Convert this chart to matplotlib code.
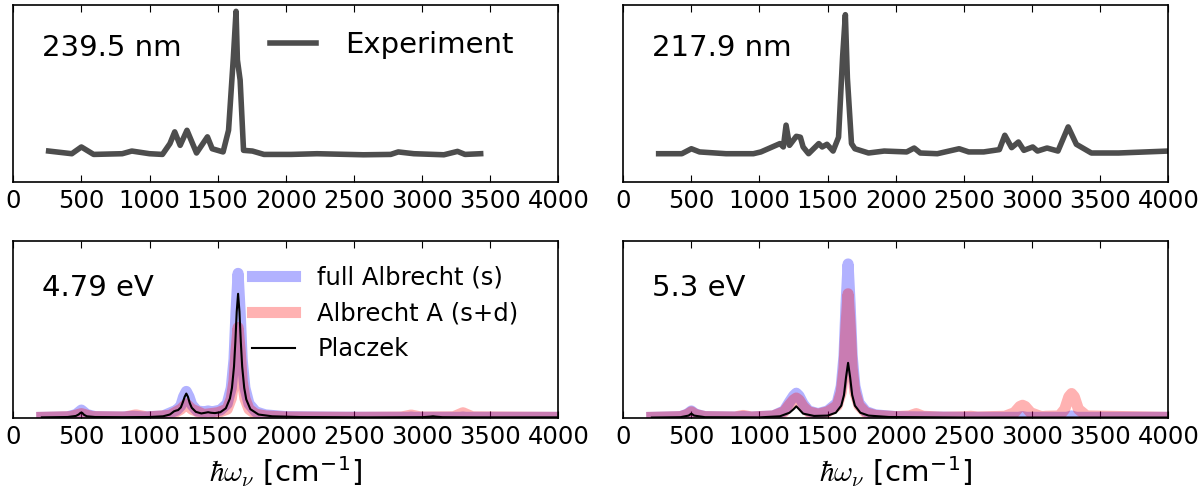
import matplotlib

matplotlib.use("Agg")
import matplotlib.pyplot as plt

# Experimental spectra (intensity in arbitrary units, axes run 0..1)
exp_239_x = [260, 430, 500, 590, 800, 870, 1000, 1095, 1150, 1185,
             1225, 1275, 1345, 1425, 1460, 1540, 1580, 1615, 1635, 1645,
             1665, 1690, 1755, 1840, 2040, 2230, 2570, 2770, 2825, 2940,
             3160, 3260, 3315, 3430]
exp_239_y = [0.177, 0.162, 0.200, 0.158, 0.162, 0.177, 0.162, 0.158, 0.219, 0.285,
             0.209, 0.294, 0.166, 0.257, 0.190, 0.172, 0.294, 0.700, 0.964, 0.690,
             0.577, 0.181, 0.177, 0.158, 0.158, 0.162, 0.156, 0.158, 0.172, 0.162,
             0.156, 0.175, 0.158, 0.162]

exp_217_x = [260, 430, 500, 560, 755, 955, 1010, 1150, 1175, 1195,
             1220, 1270, 1300, 1320, 1360, 1435, 1460, 1495, 1540, 1580,
             1610, 1630, 1645, 1675, 1700, 1800, 1915, 2080, 2135, 2180,
             2305, 2465, 2535, 2645, 2760, 2800, 2850, 2900, 2940, 3005,
             3040, 3110, 3190, 3265, 3325, 3435, 3635, 4000]
exp_217_y = [0.162, 0.162, 0.190, 0.172, 0.162, 0.162, 0.172, 0.219, 0.200, 0.323,
             0.209, 0.260, 0.255, 0.200, 0.162, 0.219, 0.200, 0.215, 0.177, 0.255,
             0.710, 0.945, 0.587, 0.219, 0.190, 0.166, 0.177, 0.172, 0.194, 0.166,
             0.162, 0.190, 0.172, 0.172, 0.185, 0.266, 0.196, 0.228, 0.181, 0.200,
             0.177, 0.194, 0.177, 0.313, 0.215, 0.166, 0.166, 0.177]

# Calculated spectra at 4.79 eV
full_479_x = [210, 400, 460, 500, 540, 600, 800, 880, 960, 1100,
              1170, 1200, 1230, 1250, 1270, 1290, 1310, 1350, 1400, 1430,
              1460, 1520, 1570, 1600, 1620, 1635, 1650, 1665, 1680, 1700,
              1730, 1780, 1850, 2000, 2400, 2900, 2920, 2940, 3280, 3300,
              3320, 4000]
full_479_y = [0.004, 0.007, 0.02, 0.045, 0.02, 0.008, 0.006, 0.01, 0.006, 0.012,
              0.035, 0.045, 0.07, 0.12, 0.15, 0.12, 0.075, 0.04, 0.035, 0.04,
              0.035, 0.045, 0.08, 0.17, 0.33, 0.6, 0.815, 0.6, 0.33, 0.17,
              0.08, 0.035, 0.018, 0.008, 0.005, 0.004, 0.006, 0.004, 0.004, 0.006,
              0.004, 0.004]

albA_479_x = [210, 420, 500, 580, 820, 900, 980, 1150, 1230, 1270,
              1310, 1400, 1500, 1570, 1600, 1620, 1635, 1650, 1665, 1680,
              1700, 1730, 1780, 1850, 2000, 2500, 2850, 2920, 2990, 3230,
              3300, 3370, 4000]
albA_479_y = [0.004, 0.008, 0.025, 0.008, 0.006, 0.018, 0.006, 0.015, 0.05, 0.08,
              0.05, 0.02, 0.03, 0.05, 0.11, 0.21, 0.38, 0.51, 0.38, 0.21,
              0.11, 0.05, 0.022, 0.012, 0.006, 0.004, 0.006, 0.017, 0.006, 0.007,
              0.03, 0.007, 0.004]

plac_479_x = [210, 400, 460, 480, 495, 505, 520, 540, 600, 800,
              1000, 1100, 1150, 1180, 1195, 1210, 1230, 1245, 1258, 1270,
              1282, 1295, 1310, 1340, 1380, 1410, 1430, 1450, 1480, 1520,
              1560, 1590, 1605, 1620, 1630, 1640, 1650, 1660, 1670, 1680,
              1695, 1710, 1740, 1800, 1900, 2100, 2600, 3000, 3060, 3080,
              3100, 3150, 3400, 4000]
plac_479_y = [0.004, 0.006, 0.012, 0.02, 0.03, 0.03, 0.018, 0.01, 0.006, 0.005,
              0.006, 0.01, 0.02, 0.038, 0.042, 0.045, 0.06, 0.09, 0.12, 0.138,
              0.12, 0.085, 0.058, 0.035, 0.026, 0.03, 0.033, 0.03, 0.028, 0.033,
              0.055, 0.11, 0.17, 0.29, 0.43, 0.6, 0.70, 0.6, 0.43, 0.29,
              0.17, 0.105, 0.05, 0.02, 0.01, 0.006, 0.004, 0.005, 0.008, 0.01,
              0.008, 0.005, 0.004, 0.004]

# Calculated spectra at 5.3 eV
full_53_x = [210, 420, 470, 500, 530, 600, 820, 880, 940, 1100,
             1180, 1220, 1250, 1270, 1290, 1320, 1360, 1430, 1500, 1570,
             1600, 1620, 1635, 1650, 1665, 1680, 1700, 1730, 1780, 1850,
             2000, 2500, 2900, 2930, 2960, 3260, 3290, 3320, 4000]
full_53_y = [0.004, 0.008, 0.022, 0.04, 0.022, 0.008, 0.006, 0.009, 0.006, 0.012,
             0.04, 0.09, 0.125, 0.14, 0.125, 0.08, 0.04, 0.025, 0.04, 0.085,
             0.18, 0.35, 0.64, 0.868, 0.64, 0.35, 0.18, 0.085, 0.037, 0.018,
             0.008, 0.004, 0.004, 0.008, 0.004, 0.004, 0.012, 0.004, 0.004]

albA_53_x = [210, 420, 470, 500, 530, 600, 820, 880, 940, 1100,
             1180, 1220, 1250, 1270, 1290, 1320, 1360, 1430, 1500, 1570,
             1600, 1620, 1635, 1650, 1665, 1680, 1700, 1730, 1780, 1850,
             2000, 2100, 2150, 2200, 2350, 2500, 2550, 2600, 2800, 2870,
             2910, 2930, 2950, 2990, 3060, 3080, 3100, 3200, 3240, 3270,
             3290, 3310, 3340, 3400, 4000]
albA_53_y = [0.004, 0.008, 0.02, 0.035, 0.02, 0.008, 0.006, 0.015, 0.006, 0.012,
             0.035, 0.075, 0.102, 0.113, 0.102, 0.065, 0.035, 0.022, 0.035, 0.07,
             0.145, 0.28, 0.52, 0.70, 0.52, 0.28, 0.145, 0.07, 0.03, 0.015,
             0.008, 0.012, 0.025, 0.01, 0.005, 0.007, 0.01, 0.006, 0.01, 0.03,
             0.065, 0.072, 0.065, 0.03, 0.01, 0.008, 0.01, 0.012, 0.05, 0.12,
             0.138, 0.12, 0.05, 0.012, 0.004]

plac_53_x = [210, 420, 480, 500, 520, 600, 1000, 1150, 1220, 1250,
             1270, 1290, 1320, 1400, 1500, 1560, 1600, 1620, 1635, 1650,
             1665, 1680, 1700, 1740, 1800, 1950, 2500, 4000]
plac_53_y = [0.003, 0.005, 0.014, 0.025, 0.014, 0.005, 0.004, 0.01, 0.03, 0.05,
             0.066, 0.05, 0.025, 0.012, 0.014, 0.03, 0.07, 0.13, 0.23, 0.311,
             0.23, 0.13, 0.07, 0.03, 0.014, 0.006, 0.003, 0.003]

xticks = [0, 500, 1000, 1500, 2000, 2500, 3000, 3500, 4000]
xlabel = r"$\hbar\omega_\nu$ [cm$^{\mathregular{-1}}$]"

plt.rcParams["mathtext.fontset"] = "cm"


def style_axes(ax):
    """Old-style axes: inward ticks top and bottom, no y ticks."""
    ax.set_xlim(0, 4000)
    ax.set_ylim(0, 1)
    ax.set_xticks(xticks)
    ax.set_yticks([])
    ax.tick_params(axis="x", direction="in", top=True, length=5,
                   width=0.8, labelsize=17.5, pad=5)
    for spine in ax.spines.values():
        spine.set_linewidth(1.2)


def main() -> None:
    fig, axes = plt.subplots(2, 2, figsize=(12.02, 4.93), dpi=100)
    fig.subplots_adjust(left=0.011, right=0.972, top=0.99, bottom=0.152,
                        wspace=0.119, hspace=0.327)

    # Experiment
    ax = axes[0, 0]
    ax.plot(exp_239_x, exp_239_y, color="0.3", lw=4, label="Experiment")
    ax.text(0.053, 0.755, "239.5 nm", transform=ax.transAxes,
            fontsize=21, va="center")
    ax.legend(loc="upper right", bbox_to_anchor=(0.967, 1.0),
              frameon=False, fontsize=21, handlelength=1.6,
              handletextpad=1.0)
    style_axes(ax)

    ax = axes[0, 1]
    ax.plot(exp_217_x, exp_217_y, color="0.3", lw=4)
    ax.text(0.053, 0.755, "217.9 nm", transform=ax.transAxes,
            fontsize=21, va="center")
    style_axes(ax)

    # Calculations
    ax = axes[1, 0]
    ax.plot(full_479_x, full_479_y, color="b", alpha=0.3, lw=8,
            label="full Albrecht (s)")
    ax.plot(albA_479_x, albA_479_y, color="r", alpha=0.3, lw=8,
            label="Albrecht A (s+d)")
    ax.plot(plac_479_x, plac_479_y, color="k", lw=1.5, label="Placzek")
    ax.text(0.053, 0.73, "4.79 eV", transform=ax.transAxes,
            fontsize=21, va="center")
    ax.legend(loc="upper right", bbox_to_anchor=(0.967, 0.985),
              frameon=False, fontsize=17.5, handlelength=1.8,
              handletextpad=0.9, labelspacing=0.5)
    ax.set_xlabel(xlabel, fontsize=21)
    style_axes(ax)

    ax = axes[1, 1]
    ax.plot(full_53_x, full_53_y, color="b", alpha=0.3, lw=8)
    ax.plot(albA_53_x, albA_53_y, color="r", alpha=0.3, lw=8)
    ax.plot(plac_53_x, plac_53_y, color="k", lw=1.5)
    ax.text(0.053, 0.73, "5.3 eV", transform=ax.transAxes,
            fontsize=21, va="center")
    ax.set_xlabel(xlabel, fontsize=21)
    style_axes(ax)

    fig.savefig("out.png", dpi=100)
    plt.close(fig)


if __name__ == "__main__":
    main()
